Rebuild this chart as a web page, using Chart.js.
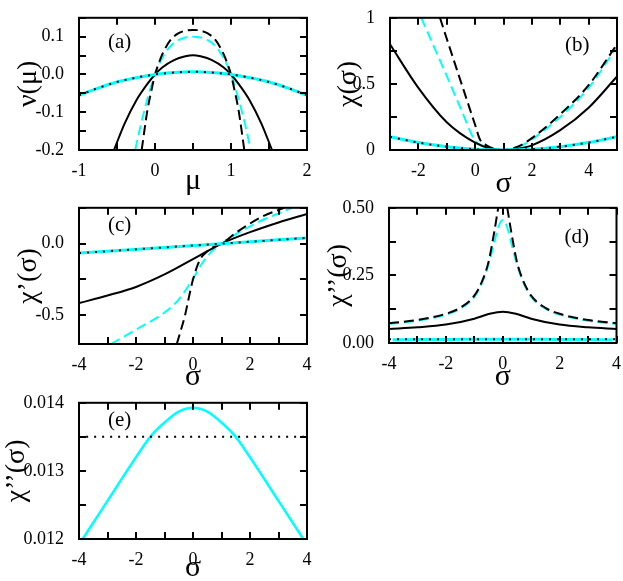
<!DOCTYPE html>
<html><head><meta charset="utf-8">
<script src="https://cdn.jsdelivr.net/npm/chart.js@4.4.0/dist/chart.umd.min.js"></script>
<style>
html,body{margin:0;padding:0;background:#fff;width:623px;height:581px;overflow:hidden;position:relative}
canvas{position:absolute}
</style></head><body>
<canvas id="pa"></canvas><canvas id="pb"></canvas><canvas id="pc"></canvas><canvas id="pd"></canvas><canvas id="pe"></canvas>
<script>
// ---------- Panel (a): nu(mu) ----------
const aXTicks = [-1,-0.5,0,0.5,1,1.5,2];
const aXLabels = ['-1','','0','','1','','2'];
const aYTicks = [-0.2,-0.15,-0.1,-0.05,0,0.05,0.1,0.15];
const aYLabels = ['-0.2','','-0.1','','0.0','','0.1',''];
const aSolidX = [-0.54,-0.4,-0.25,-0.1,0,0.1,0.25,0.4,0.5,0.6,0.75,0.9,1,1.1,1.25,1.4,1.54];
const aSolidY = [-0.2,-0.13,-0.07,-0.025,0,0.019,0.038,0.048,0.051,0.048,0.038,0.019,0,-0.025,-0.07,-0.13,-0.2];
const aDashX = [-0.175,-0.1,-0.05,0,0.05,0.1,0.2,0.3,0.4,0.5,0.6,0.7,0.8,0.9,0.95,1,1.05,1.1,1.175];
const aDashY = [-0.2,-0.095,-0.045,0,0.03,0.055,0.09,0.108,0.116,0.118,0.116,0.108,0.09,0.055,0.03,0,-0.045,-0.095,-0.2];
const aCyanDashX = [-0.26,-0.2,-0.1,0,0.1,0.2,0.3,0.4,0.5,0.6,0.7,0.8,0.9,1,1.1,1.2,1.26];
const aCyanDashY = [-0.2,-0.145,-0.065,0,0.045,0.074,0.09,0.098,0.1,0.098,0.09,0.074,0.045,0,-0.065,-0.145,-0.2];
const aDotX = [-1,-0.75,-0.5,-0.25,0,0.25,0.5,0.75,1,1.25,1.5,1.75,2];
const aDotY = [-0.055,-0.036,-0.02,-0.0085,0,0.005,0.007,0.005,0,-0.0085,-0.02,-0.036,-0.055];
const aCyanSolidY = [-0.055,-0.036,-0.02,-0.0085,0,0.005,0.007,0.005,0,-0.0085,-0.02,-0.036,-0.055];

// ---------- Panel (b): chi(sigma) ----------
const bXTicks = [-3,-2,-1,0,1,2,3,4,5];
const bXLabels = ['','-2','','0','','2','','4',''];
const bYTicks = [0,0.25,0.5,0.75,1];
const bYLabels = ['0','','0.5','','1'];
const bSolidX = [-3,-2,-1,0,0.5,1,1.5,2,3,4,5];
const bSolidY = [0.8,0.47,0.21,0.055,0.013,0,0.009,0.035,0.15,0.32,0.556];
const bDashX = [-1.24,-0.6,0,0.17,0.4,0.7,1,1.5,2,3,4,5];
const bDashY = [1,0.58,0.19,0.08,0.035,0.008,0,0.025,0.09,0.27,0.49,0.8];
const bCyanDashX = [-1.9,-1,-0.5,0,0.3,0.6,1,1.5,2,3,4,5];
const bCyanDashY = [1,0.56,0.31,0.07,0.03,0.008,0,0.02,0.08,0.25,0.47,0.78];
const bDotX = [-3,-2,-1,0,1,2,3,4,5];
const bDotY = [0.1,0.056,0.025,0.006,0,0.006,0.025,0.056,0.1];
const bCyanSolidY = [0.1,0.056,0.025,0.006,0,0.006,0.025,0.056,0.1];

// ---------- Panel (c): chi'(sigma) ----------
const cXTicks = [-4,-3,-2,-1,0,1,2,3,4];
const cXLabels = ['-4','','-2','','0','','2','','4'];
const cYTicks = [-0.7,-0.5,-0.25,0,0.25];
const cYLabels = ['','-0.5','','0.0',''];
const cSolidX = [-4,-3,-2,-1,0,0.5,1,2,3,4];
const cSolidY = [-0.415,-0.362,-0.302,-0.215,-0.108,-0.053,0,0.08,0.148,0.207];
const cDashX = [-0.57,-0.45,-0.28,-0.15,0,0.25,0.5,0.75,1,1.5,2,2.5,3,3.2];
const cDashY = [-0.7,-0.62,-0.5,-0.38,-0.25,-0.11,-0.055,-0.02,0,0.075,0.14,0.195,0.235,0.25];
const cCyanDashX = [-2.88,-2,-1,-0.5,0,0.3,0.65,1,1.5,2,2.5,3,3.45];
const cCyanDashY = [-0.7,-0.6,-0.48,-0.39,-0.245,-0.144,-0.056,0,0.065,0.12,0.17,0.21,0.25];
const cDotX = [-4,1,4];
const cDotY = [-0.066,0,0.04];
const cCyanSolidY = [-0.066,0,0.04];

// ---------- Panel (d): chi''(sigma) ----------
const dXTicks = [-4,-3,-2,-1,0,1,2,3,4];
const dXLabels = ['-4','','-2','','0','','2','','4'];
const dYTicks = [0,0.125,0.25,0.375,0.5];
const dYLabels = ['0.00','','0.25','','0.50'];
const dSolidX = [-4,-3,-2,-1,-0.5,0,0.5,1,2,3,4];
const dSolidY = [0.052,0.058,0.068,0.09,0.107,0.116,0.107,0.09,0.068,0.058,0.052];
const dDashX = [-4,-3,-2,-1.5,-1,-0.7,-0.5,-0.3,-0.16,0,0.16,0.3,0.5,0.7,1,1.5,2,3,4];
const dDashY = [0.073,0.085,0.108,0.13,0.175,0.235,0.3,0.41,0.5,null,0.5,0.41,0.3,0.235,0.175,0.13,0.108,0.085,0.073];
const dCyanDashX = [-4,-3,-2,-1.5,-1,-0.7,-0.5,-0.3,-0.15,0,0.15,0.3,0.5,0.7,1,1.5,2,3,4];
const dCyanDashY = [0.07,0.082,0.105,0.127,0.17,0.23,0.29,0.37,0.43,0.455,0.43,0.37,0.29,0.23,0.17,0.127,0.105,0.082,0.07];
const dDotX = [-4,4];
const dDotY = [0.0135,0.0135];

// ---------- Panel (e): chi''(sigma) zoom ----------
const eXTicks = [-4,-3,-2,-1,0,1,2,3,4];
const eXLabels = ['-4','','-2','','0','','2','','4'];
const eYTicks = [0.012,0.0125,0.013,0.0135,0.014];
const eYLabels = ['0.012','','0.013','','0.014'];
const eCyanX = [-3.87,-3,-2,-1.5,-1,-0.5,0,0.5,1,1.5,2,3,3.87];
const eCyanY = [0.012,0.01256,0.0132,0.0135,0.01371,0.01387,0.013926,0.01387,0.01371,0.0135,0.0132,0.01256,0.012];
const eDotX = [-3.75,4];
const eDotY = [0.0135,0.0135];

const FONT = "'Liberation Serif', 'Times New Roman', serif";
const CYAN = '#00FFFF';
const pts = (xs, ys) => xs.map((x, i) => ({x: x, y: ys[i]}));

function solidBlack(d){ return {data:d, borderColor:'#000', borderWidth:2, borderDash:[]}; }
function dashBlack(d){ return {data:d, borderColor:'#000', borderWidth:2, borderDash:[10,5]}; }
function dashCyan(d){ return {data:d, borderColor:CYAN, borderWidth:2, borderDash:[10,5]}; }
function solidCyan(d){ return {data:d, borderColor:CYAN, borderWidth:3, borderDash:[]}; }
function dotBlack(d){ return {data:d, borderColor:'#000', borderWidth:2, borderDash:[2,6]}; }

function panel(p){
  const cv = document.getElementById(p.id);
  cv.width = p.W; cv.height = p.H;
  cv.style.left = p.L + 'px'; cv.style.top = p.T + 'px';
  const A = p.area;
  const datasets = p.datasets.map(ds => Object.assign({
    pointRadius:0, fill:false, cubicInterpolationMode:'monotone', spanGaps:false, borderCapStyle:'butt'
  }, ds));
  const inward = {
    id:'inward',
    afterDraw(chart){
      const ctx = chart.ctx, a = chart.chartArea, xs = chart.scales.x, ys = chart.scales.y;
      ctx.save();
      ctx.strokeStyle = '#000'; ctx.lineWidth = 2;
      const TL = 7;
      ctx.beginPath();
      xs.ticks.forEach(t => {
        const px = Math.round(xs.getPixelForValue(t.value));
        ctx.moveTo(px, a.bottom); ctx.lineTo(px, a.bottom - TL);
        ctx.moveTo(px, a.top); ctx.lineTo(px, a.top + TL);
      });
      ys.ticks.forEach(t => {
        const py = Math.round(ys.getPixelForValue(t.value));
        ctx.moveTo(a.left, py); ctx.lineTo(a.left + TL, py);
        ctx.moveTo(a.right, py); ctx.lineTo(a.right - TL, py);
      });
      ctx.stroke();
      ctx.strokeRect(a.left, a.top, a.right - a.left, a.bottom - a.top);
      ctx.fillStyle = '#000';
      ctx.font = '21px ' + FONT;
      ctx.textBaseline = 'middle';
      ctx.textAlign = 'left';
      const lx = p.lab.fromRight ? a.right - p.lab.dx : a.left + p.lab.dx;
      ctx.fillText(p.lab.text, lx, a.top + p.lab.dy);
      ctx.restore();
    }
  };
  new Chart(cv, {
    type:'line',
    data:{datasets: datasets},
    options:{
      responsive:false, animation:false, devicePixelRatio:1,
      layout:{padding:{top:A.top - p.T, right:p.L + p.W - A.right, left:0, bottom:0}},
      plugins:{legend:{display:false}, tooltip:{enabled:false}},
      scales:{
        x:{type:'linear', min:p.x.min, max:p.x.max,
          afterBuildTicks: s => { s.ticks = p.x.ticks.map(v => ({value:v})); },
          afterFit: s => { s.height = p.T + p.H - A.bottom; },
          ticks:{autoSkip:false, maxRotation:0, minRotation:0, padding:2, color:'#000',
            font:{family:FONT, size:18}, callback:(v,i) => p.x.labels[i]},
          grid:{display:false}, border:{display:false},
          title:{display:true, text:p.x.title, color:'#000', font:{family:FONT, size:30, lineHeight:1},
            padding:{top:0, bottom:p.x.tpad}}
        },
        y:{type:'linear', min:p.y.min, max:p.y.max,
          afterBuildTicks: s => { s.ticks = p.y.ticks.map(v => ({value:v})); },
          afterFit: s => { s.width = A.left - p.L; },
          ticks:{autoSkip:false, padding:7, color:'#000',
            font:{family:FONT, size:18}, callback:(v,i) => p.y.labels[i]},
          grid:{display:false}, border:{display:false},
          title:{display:true, text:p.y.title, color:'#000', font:{family:FONT, size:28, lineHeight:1},
            padding:{top:p.y.tpad, bottom:0}}
        }
      }
    },
    plugins:[inward]
  });
}

panel({id:'pa', L:0, T:0, W:315, H:200, area:{left:79, top:7, right:307, bottom:150},
  x:{min:-1, max:2, ticks:aXTicks, labels:aXLabels, title:'μ', tpad:4},
  y:{min:-0.2, max:0.15, ticks:aYTicks, labels:aYLabels, title:'ν(μ)', tpad:15},
  lab:{text:'(a)', dx:29, dy:25, fromRight:false},
  datasets:[dotBlack(pts(aDotX,aDotY)), solidCyan(pts(aDotX,aCyanSolidY)), solidBlack(pts(aSolidX,aSolidY)),
    dashBlack(pts(aDashX,aDashY)), dashCyan(pts(aCyanDashX,aCyanDashY))]
});
panel({id:'pb', L:312, T:0, W:311, H:200, area:{left:390, top:7, right:617, bottom:150},
  x:{min:-3, max:5, ticks:bXTicks, labels:bXLabels, title:'σ', tpad:1},
  y:{min:0, max:1, ticks:bYTicks, labels:bYLabels, title:'χ(σ)', tpad:23},
  lab:{text:'(b)', dx:52, dy:28, fromRight:true},
  datasets:[dotBlack(pts(bDotX,bDotY)), solidCyan(pts(bDotX,bCyanSolidY)), solidBlack(pts(bSolidX,bSolidY)),
    dashBlack(pts(bDashX,bDashY)), dashCyan(pts(bCyanDashX,bCyanDashY))]
});
panel({id:'pc', L:0, T:190, W:315, H:200, area:{left:79, top:202, right:307, bottom:344},
  x:{min:-4, max:4, ticks:cXTicks, labels:cXLabels, title:'σ', tpad:-2},
  y:{min:-0.7, max:0.25, ticks:cYTicks, labels:cYLabels, title:'χ’(σ)', tpad:15},
  lab:{text:'(c)', dx:29, dy:18, fromRight:false},
  datasets:[dotBlack(pts(cDotX,cDotY)), solidCyan(pts(cDotX,cCyanSolidY)), solidBlack(pts(cSolidX,cSolidY)),
    dashBlack(pts(cDashX,cDashY)), dashCyan(pts(cCyanDashX,cCyanDashY))]
});
panel({id:'pd', L:312, T:190, W:311, H:200, area:{left:389, top:202, right:617, bottom:343},
  x:{min:-4, max:4, ticks:dXTicks, labels:dXLabels, title:'σ', tpad:-2},
  y:{min:0, max:0.5, ticks:dYTicks, labels:dYLabels, title:'χ’’(σ)', tpad:13},
  lab:{text:'(d)', dx:52, dy:30, fromRight:true},
  datasets:[dotBlack(pts(dDotX,dDotY)), solidCyan(pts(eCyanX,eCyanY)), solidBlack(pts(dSolidX,dSolidY)),
    dashBlack(pts(dDashX,dDashY)), dashCyan(pts(dCyanDashX,dCyanDashY))]
});
panel({id:'pe', L:0, T:385, W:315, H:196, area:{left:79, top:396, right:307, bottom:539},
  x:{min:-4, max:4, ticks:eXTicks, labels:eXLabels, title:'σ', tpad:-2},
  y:{min:0.012, max:0.014, ticks:eYTicks, labels:eYLabels, title:'χ’’(σ)', tpad:3},
  lab:{text:'(e)', dx:29, dy:18, fromRight:false},
  datasets:[dotBlack(pts(eDotX,eDotY)), Object.assign(solidCyan(pts(eCyanX,eCyanY)), {borderWidth:2.5})]
});
</script>
</body></html>
